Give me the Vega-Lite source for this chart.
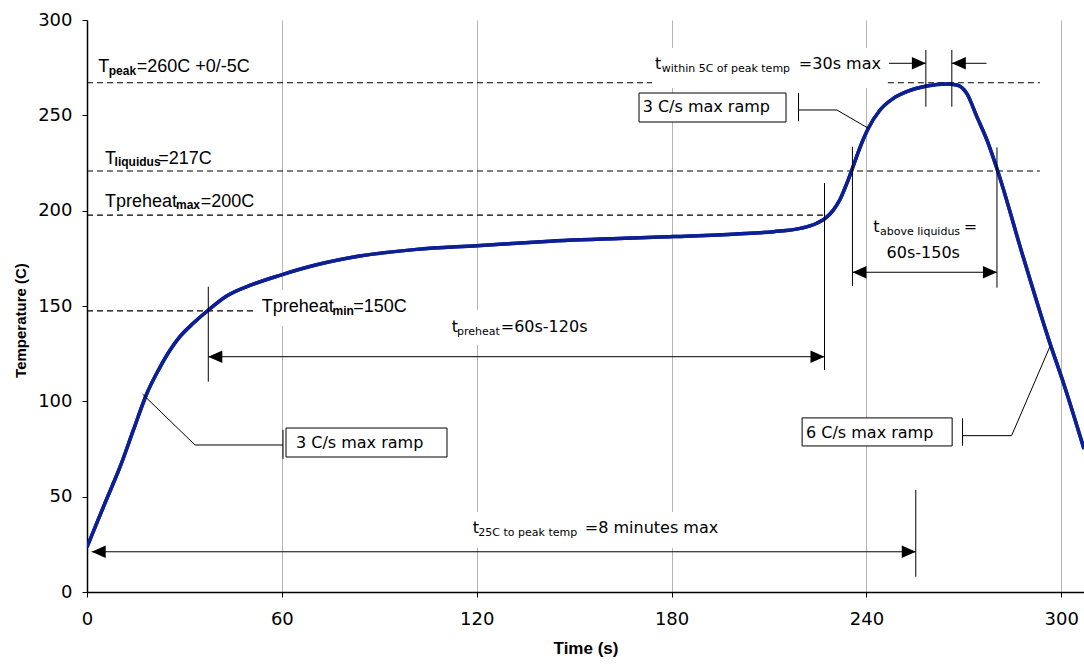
{
  "$schema": "https://vega.github.io/schema/vega-lite/v6.json",
  "width": 997,
  "height": 572,
  "autosize": {"type": "none"},
  "padding": {"left": 87, "top": 20, "right": 0, "bottom": 72},
  "background": "white",
  "config": {"view": {"stroke": null}},
  "datasets": {
    "curve": [
      {"t": 0, "T": 23.5}, {"t": 2.5, "T": 34}, {"t": 5.5, "T": 46.5}, {"t": 10.2, "T": 65.7},
      {"t": 14.3, "T": 85}, {"t": 18.4, "T": 104}, {"t": 22, "T": 116.4}, {"t": 25.6, "T": 126.9},
      {"t": 28.6, "T": 133.9}, {"t": 32.7, "T": 140.9}, {"t": 37.4, "T": 147.9}, {"t": 43, "T": 155.2},
      {"t": 51, "T": 161.3}, {"t": 59.4, "T": 166.1}, {"t": 70.7, "T": 171.6}, {"t": 84, "T": 176.2},
      {"t": 101.5, "T": 179.7}, {"t": 120, "T": 181.6}, {"t": 142.6, "T": 184}, {"t": 180.6, "T": 186.4},
      {"t": 200, "T": 187.8}, {"t": 211.4, "T": 189}, {"t": 219.6, "T": 190.7}, {"t": 224.7, "T": 193.4},
      {"t": 227.3, "T": 196}, {"t": 229.8, "T": 200.3}, {"t": 231.9, "T": 206}, {"t": 234, "T": 214.4},
      {"t": 235.5, "T": 221.3}, {"t": 238.1, "T": 233.5}, {"t": 240.6, "T": 243.2}, {"t": 244.2, "T": 252.8},
      {"t": 248.3, "T": 258.9}, {"t": 252.4, "T": 262.4}, {"t": 258.6, "T": 265.4}, {"t": 264.8, "T": 266.4},
      {"t": 267.8, "T": 265.9}, {"t": 270.9, "T": 261.5}, {"t": 274, "T": 249.3}, {"t": 277.1, "T": 237.1},
      {"t": 280.2, "T": 222}, {"t": 288.4, "T": 175}, {"t": 296.6, "T": 130}, {"t": 300.7, "T": 109.5},
      {"t": 307, "T": 75}
    ],
    "dashed": [
      {"t1": 0, "t2": 174.0, "T": 267.1},
      {"t1": 246.6, "t2": 293.4, "T": 267.1},
      {"t1": 0, "t2": 293.4, "T": 220.8},
      {"t1": 0, "t2": 227.9, "T": 197.7},
      {"t1": 0, "t2": 51.4, "T": 147.4}
    ],
    "segs": [
      {"t1": 37.35, "T1": 160.1, "t2": 37.35, "T2": 110.3},
      {"t1": 37.35, "T1": 123.4, "t2": 227.1, "T2": 123.4},
      {"t1": 227.1, "T1": 214.5, "t2": 227.1, "T2": 116.4},
      {"t1": 235.7, "T1": 233.5, "t2": 235.7, "T2": 160.5},
      {"t1": 280.2, "T1": 233.2, "t2": 280.2, "T2": 159.6},
      {"t1": 235.7, "T1": 167.7, "t2": 280.2, "T2": 167.7},
      {"t1": 258.3, "T1": 284.3, "t2": 258.3, "T2": 254.5},
      {"t1": 266.3, "T1": 284.3, "t2": 266.3, "T2": 254.5},
      {"t1": 246.95, "T1": 277.3, "t2": 258.3, "T2": 277.3},
      {"t1": 266.3, "T1": 277.3, "t2": 277.0, "T2": 277.3},
      {"t1": 255.2, "T1": 53.5, "t2": 255.2, "T2": 8.0},
      {"t1": 1.45, "T1": 21.1, "t2": 255.2, "T2": 21.1},
      {"t1": 17.15, "T1": 103.7, "t2": 33.26, "T2": 77.1},
      {"t1": 33.26, "T1": 77.1, "t2": 60.35, "T2": 77.1},
      {"t1": 60.35, "T1": 85.0, "t2": 60.35, "T2": 69.8},
      {"t1": 240.6, "T1": 243.2, "t2": 230.9, "T2": 252.8},
      {"t1": 230.9, "T1": 252.8, "t2": 219.1, "T2": 252.8},
      {"t1": 219.1, "T1": 261.8, "t2": 219.1, "T2": 246.9},
      {"t1": 296.5, "T1": 128.7, "t2": 284.7, "T2": 82.0},
      {"t1": 284.7, "T1": 82.0, "t2": 269.6, "T2": 82.0},
      {"t1": 269.6, "T1": 91.1, "t2": 269.6, "T2": 76.7}
    ],
    "arrowL": [
      {"t": 37.35, "T": 123.4}, {"t": 235.7, "T": 167.7}, {"t": 1.45, "T": 21.1}, {"t": 266.3, "T": 277.3}
    ],
    "arrowR": [
      {"t": 227.1, "T": 123.4}, {"t": 280.2, "T": 167.7}, {"t": 255.2, "T": 21.1}, {"t": 258.3, "T": 277.3}
    ],
    "boxes": [
      {"t1": 169.98, "t2": 215.24, "T1": 261.7, "T2": 246.5},
      {"t1": 61.28, "t2": 110.85, "T1": 86.0, "T2": 70.8},
      {"t1": 220.2, "t2": 266.4, "T1": 91.3, "T2": 76.6}
    ],
    "bgs": [
      {"t1": 174.0, "t2": 246.6, "T1": 285.3, "T2": 264.3},
      {"t1": 111.2, "t2": 159.2, "T1": 147.9, "T2": 129.5},
      {"t1": 117.9, "t2": 195.5, "T1": 42.0, "T2": 23.1},
      {"t1": 51.7, "t2": 102.5, "T1": 158.4, "T2": 139.5}
    ],
    "bigT": [
      {"t": 3.48, "T": 272.9, "label": "T"},
      {"t": 15.3, "T": 272.9, "label": "=260C +0/-5C"},
      {"t": 5.54, "T": 224.5, "label": "T"},
      {"t": 21.95, "T": 224.5, "label": "=217C"},
      {"t": 5.54, "T": 202.1, "label": "Tpreheat"},
      {"t": 35.0, "T": 202.1, "label": "=200C"},
      {"t": 53.8, "T": 147.0, "label": "Tpreheat"},
      {"t": 82.0, "T": 147.0, "label": "=150C"}
    ],
    "subT": [
      {"t": 6.7, "T": 271.4, "label": "peak"},
      {"t": 8.5, "T": 223.2, "label": "liquidus"},
      {"t": 27.4, "T": 200.9, "label": "max"},
      {"t": 75.6, "T": 145.5, "label": "min"}
    ],
    "mainText": [
      {"t": 112.3, "T": 136.4, "label": "t"},
      {"t": 127.4, "T": 136.4, "label": "=60s-120s"},
      {"t": 118.8, "T": 30.8, "label": "t"},
      {"t": 153.3, "T": 30.8, "label": "=8 minutes max"},
      {"t": 174.9, "T": 274.1, "label": "t"},
      {"t": 219.2, "T": 274.1, "label": "=30s max"},
      {"t": 242.1, "T": 189.0, "label": "t"},
      {"t": 270.0, "T": 189.0, "label": "="},
      {"t": 246.2, "T": 175.0, "label": "60s-150s"},
      {"t": 171.1, "T": 251.9, "label": "3 C/s max ramp"},
      {"t": 64.35, "T": 75.5, "label": "3 C/s max ramp"},
      {"t": 221.4, "T": 80.9, "label": "6 C/s max ramp"}
    ],
    "subText": [
      {"t": 113.9, "T": 134.8, "label": "preheat"},
      {"t": 120.5, "T": 29.4, "label": "25C to peak temp"},
      {"t": 177.0, "T": 272.7, "label": "within 5C of peak temp"},
      {"t": 244.2, "T": 187.5, "label": "above liquidus"}
    ]
  },
  "layer": [
    {
      "data": {"name": "curve"},
      "mark": {"type": "line", "color": "#0d1f94", "strokeWidth": 3.5, "interpolate": "monotone", "clip": true},
      "encoding": {
        "x": {
          "field": "t", "type": "quantitative", "title": "Time (s)",
          "scale": {"domain": [0, 307], "nice": false},
          "axis": {
            "values": [0, 60, 120, 180, 240, 300],
            "grid": true, "gridColor": "#b4b4b4", "gridWidth": 1,
            "domainColor": "black", "domainWidth": 1.5,
            "tickColor": "black", "tickSize": 5, "tickWidth": 1,
            "labelFont": "DejaVu Sans", "labelFontSize": 18, "labelColor": "black", "labelPadding": 13,
            "labelFlush": false,
            "titleFont": "Liberation Sans", "titleFontSize": 17, "titleFontWeight": "bold",
            "titleColor": "black", "titlePadding": 12
          }
        },
        "y": {
          "field": "T", "type": "quantitative", "title": "Temperature (C)",
          "scale": {"domain": [0, 300], "nice": false},
          "axis": {
            "values": [0, 50, 100, 150, 200, 250, 300],
            "grid": false,
            "domainColor": "black", "domainWidth": 1.5,
            "tickColor": "black", "tickSize": 5, "tickWidth": 1,
            "labelFont": "DejaVu Sans", "labelFontSize": 18, "labelColor": "black", "labelPadding": 10,
            "labelFlush": false,
            "titleFont": "Liberation Sans", "titleFontSize": 15, "titleFontWeight": "bold",
            "titleColor": "black", "titlePadding": 9, "titleY": 300
          }
        }
      }
    },
    {
      "data": {"name": "bgs"},
      "mark": {"type": "rect", "fill": "white", "strokeWidth": 0},
      "encoding": {
        "x": {"field": "t1", "type": "quantitative", "title": "Time (s)", "scale": {"domain": [0, 307], "nice": false}},
        "x2": {"field": "t2"},
        "y": {"field": "T1", "type": "quantitative", "title": "Temperature (C)", "scale": {"domain": [0, 300], "nice": false}},
        "y2": {"field": "T2"}
      }
    },
    {
      "data": {"name": "dashed"},
      "mark": {"type": "rule", "color": "black", "strokeWidth": 1.2, "strokeDash": [6, 4]},
      "encoding": {
        "x": {"field": "t1", "type": "quantitative", "title": "Time (s)", "scale": {"domain": [0, 307], "nice": false}},
        "x2": {"field": "t2"},
        "y": {"field": "T", "type": "quantitative", "title": "Temperature (C)", "scale": {"domain": [0, 300], "nice": false}}
      }
    },
    {
      "data": {"name": "curve"},
      "mark": {"type": "line", "color": "#0d1f94", "strokeWidth": 3.5, "interpolate": "monotone", "clip": true},
      "encoding": {
        "x": {"field": "t", "type": "quantitative", "title": "Time (s)", "scale": {"domain": [0, 307], "nice": false}},
        "y": {"field": "T", "type": "quantitative", "title": "Temperature (C)", "scale": {"domain": [0, 300], "nice": false}}
      }
    },
    {
      "data": {"name": "segs"},
      "mark": {"type": "rule", "color": "black", "strokeWidth": 1},
      "encoding": {
        "x": {"field": "t1", "type": "quantitative", "title": "Time (s)", "scale": {"domain": [0, 307], "nice": false}},
        "x2": {"field": "t2"},
        "y": {"field": "T1", "type": "quantitative", "title": "Temperature (C)", "scale": {"domain": [0, 300], "nice": false}},
        "y2": {"field": "T2"}
      }
    },
    {
      "data": {"name": "arrowL"},
      "mark": {"type": "point", "shape": "M0,0L2,-0.9L2,0.9Z", "size": 196, "filled": true, "color": "black", "opacity": 1},
      "encoding": {
        "x": {"field": "t", "type": "quantitative", "title": "Time (s)", "scale": {"domain": [0, 307], "nice": false}},
        "y": {"field": "T", "type": "quantitative", "title": "Temperature (C)", "scale": {"domain": [0, 300], "nice": false}}
      }
    },
    {
      "data": {"name": "arrowR"},
      "mark": {"type": "point", "shape": "M0,0L-2,-0.9L-2,0.9Z", "size": 196, "filled": true, "color": "black", "opacity": 1},
      "encoding": {
        "x": {"field": "t", "type": "quantitative", "title": "Time (s)", "scale": {"domain": [0, 307], "nice": false}},
        "y": {"field": "T", "type": "quantitative", "title": "Temperature (C)", "scale": {"domain": [0, 300], "nice": false}}
      }
    },
    {
      "data": {"name": "boxes"},
      "mark": {"type": "rect", "fill": "white", "stroke": "black", "strokeWidth": 1},
      "encoding": {
        "x": {"field": "t1", "type": "quantitative", "title": "Time (s)", "scale": {"domain": [0, 307], "nice": false}},
        "x2": {"field": "t2"},
        "y": {"field": "T1", "type": "quantitative", "title": "Temperature (C)", "scale": {"domain": [0, 300], "nice": false}},
        "y2": {"field": "T2"}
      }
    },
    {
      "data": {"name": "bigT"},
      "mark": {"type": "text", "font": "Liberation Sans", "fontSize": 18, "align": "left", "baseline": "alphabetic", "color": "black"},
      "encoding": {
        "x": {"field": "t", "type": "quantitative", "title": "Time (s)", "scale": {"domain": [0, 307], "nice": false}},
        "y": {"field": "T", "type": "quantitative", "title": "Temperature (C)", "scale": {"domain": [0, 300], "nice": false}},
        "text": {"field": "label"}
      }
    },
    {
      "data": {"name": "subT"},
      "mark": {"type": "text", "font": "Liberation Sans", "fontSize": 12, "fontWeight": "bold", "align": "left", "baseline": "alphabetic", "color": "black"},
      "encoding": {
        "x": {"field": "t", "type": "quantitative", "title": "Time (s)", "scale": {"domain": [0, 307], "nice": false}},
        "y": {"field": "T", "type": "quantitative", "title": "Temperature (C)", "scale": {"domain": [0, 300], "nice": false}},
        "text": {"field": "label"}
      }
    },
    {
      "data": {"name": "mainText"},
      "mark": {"type": "text", "font": "DejaVu Sans", "fontSize": 16, "align": "left", "baseline": "alphabetic", "color": "black"},
      "encoding": {
        "x": {"field": "t", "type": "quantitative", "title": "Time (s)", "scale": {"domain": [0, 307], "nice": false}},
        "y": {"field": "T", "type": "quantitative", "title": "Temperature (C)", "scale": {"domain": [0, 300], "nice": false}},
        "text": {"field": "label"}
      }
    },
    {
      "data": {"name": "subText"},
      "mark": {"type": "text", "font": "DejaVu Sans", "fontSize": 11, "align": "left", "baseline": "alphabetic", "color": "black"},
      "encoding": {
        "x": {"field": "t", "type": "quantitative", "title": "Time (s)", "scale": {"domain": [0, 307], "nice": false}},
        "y": {"field": "T", "type": "quantitative", "title": "Temperature (C)", "scale": {"domain": [0, 300], "nice": false}},
        "text": {"field": "label"}
      }
    }
  ]
}
